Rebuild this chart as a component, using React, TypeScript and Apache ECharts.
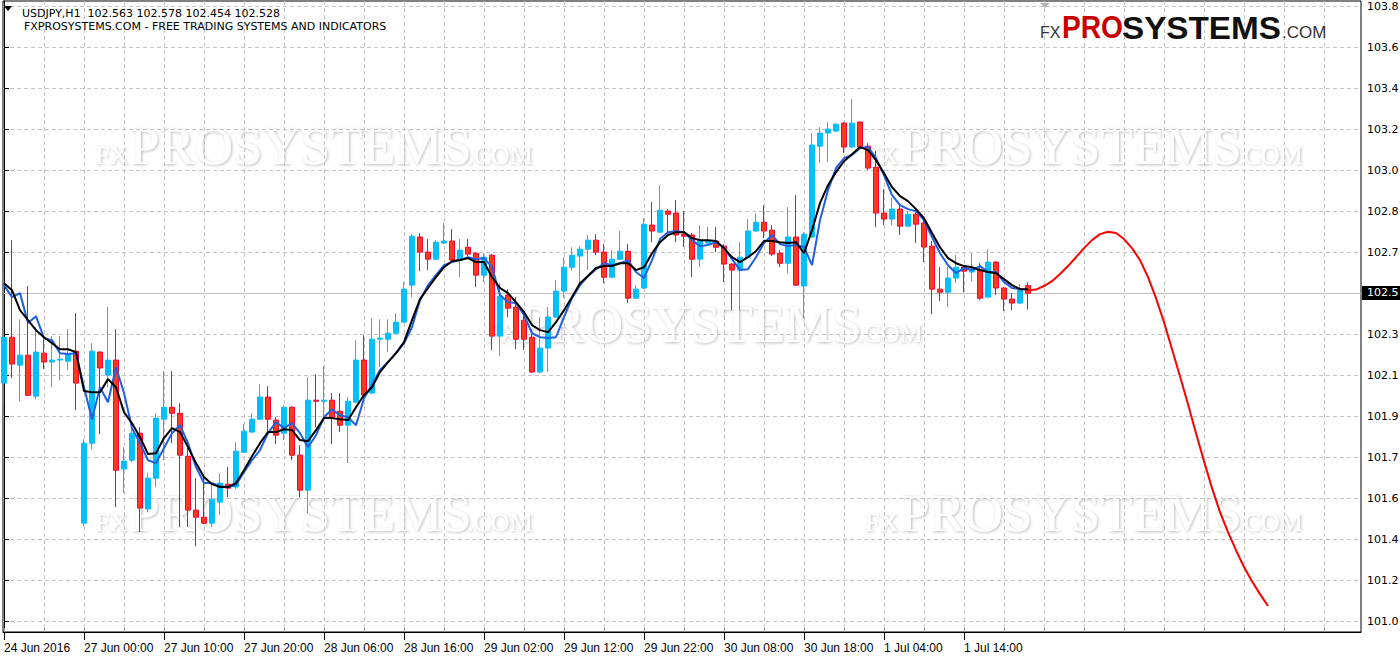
import React, { useEffect, useRef } from 'react';
import * as echarts from 'echarts';

// ---- Candles (H1 bars, index 0 = 24 Jun 14:00) ----
const opens = [102.123,102.330,102.204,102.249,102.064,102.258,102.218,102.227,102.222,102.267,
101.491,101.852,102.263,102.159,102.227,101.735,101.775,101.897,101.555,101.694,
101.960,102.014,101.987,101.793,101.550,101.518,101.491,101.586,101.667,101.654,
101.811,101.902,101.960,102.060,101.956,101.897,102.014,101.798,101.640,102.046,
102.041,102.046,101.996,101.933,102.037,102.227,102.078,102.321,102.321,102.348,
102.398,102.565,102.782,102.714,102.682,102.755,102.764,102.678,102.736,102.709,
102.610,102.700,102.335,102.520,102.466,102.407,102.330,102.173,102.281,102.421,
102.538,102.646,102.696,102.727,102.768,102.714,102.601,102.682,102.718,102.506,
102.552,102.836,102.804,102.899,102.890,102.795,102.791,102.682,102.755,102.764,
102.741,102.660,102.633,102.691,102.809,102.849,102.813,102.709,102.664,102.782,
102.561,102.782,103.192,103.251,103.260,103.296,103.188,103.301,103.192,103.097,
102.890,102.863,102.908,102.831,102.885,102.845,102.741,102.547,102.533,102.597,
102.646,102.624,102.633,102.511,102.669,102.552,102.502,102.484,102.563];

const closes = [102.330,102.209,102.249,102.068,102.263,102.218,102.227,102.231,102.254,102.123,
101.852,102.267,102.191,102.227,101.730,101.771,101.897,101.559,101.694,101.965,
102.014,101.987,101.798,101.550,101.518,101.491,101.599,101.672,101.649,101.816,
101.906,101.960,102.060,101.960,101.888,102.014,101.798,101.640,102.046,102.041,
102.046,101.969,101.933,102.041,102.227,102.069,102.321,102.326,102.348,102.398,
102.547,102.786,102.714,102.682,102.759,102.764,102.678,102.723,102.705,102.610,
102.691,102.335,102.515,102.461,102.321,102.321,102.173,102.281,102.421,102.538,
102.646,102.700,102.727,102.768,102.714,102.601,102.682,102.718,102.506,102.547,
102.840,102.809,102.903,102.885,102.791,102.786,102.682,102.768,102.764,102.736,
102.660,102.633,102.691,102.809,102.849,102.809,102.705,102.664,102.782,102.565,
102.795,103.197,103.251,103.269,103.291,103.188,103.296,103.188,103.093,102.890,
102.863,102.908,102.831,102.885,102.840,102.737,102.547,102.533,102.597,102.646,
102.628,102.637,102.506,102.669,102.552,102.502,102.484,102.542,102.528];

const lows = [102.023,102.146,102.041,102.064,102.050,102.186,102.104,102.136,102.182,102.001,
101.478,101.825,101.893,102.104,101.563,101.627,101.766,101.451,101.541,101.653,
101.775,101.852,101.473,101.473,101.387,101.487,101.473,101.527,101.608,101.645,
101.807,101.897,101.956,101.897,101.848,101.866,101.775,101.608,101.536,101.924,
101.956,101.848,101.902,101.762,102.032,102.064,102.073,102.195,102.263,102.344,
102.394,102.511,102.628,102.633,102.678,102.750,102.673,102.601,102.696,102.556,
102.579,102.272,102.245,102.421,102.276,102.272,102.168,102.168,102.173,102.416,
102.506,102.633,102.574,102.633,102.700,102.574,102.597,102.678,102.484,102.502,
102.547,102.759,102.800,102.800,102.759,102.737,102.601,102.646,102.746,102.714,
102.579,102.452,102.448,102.687,102.804,102.777,102.696,102.646,102.619,102.561,
102.416,102.777,103.116,103.120,103.255,103.161,103.183,103.183,103.084,102.827,
102.836,102.836,102.791,102.827,102.755,102.669,102.434,102.493,102.466,102.574,
102.533,102.583,102.497,102.506,102.520,102.448,102.452,102.479,102.454];

const highs = [102.619,102.768,102.411,102.561,102.375,102.321,102.335,102.335,102.366,102.439,
101.870,102.303,102.267,102.466,102.366,101.834,101.924,101.924,101.717,101.987,
102.177,102.177,102.032,101.843,101.694,101.708,101.672,101.717,101.744,101.857,
101.938,101.987,102.118,102.109,101.969,102.023,102.019,101.843,102.150,102.163,
102.200,102.078,102.078,102.060,102.317,102.339,102.416,102.411,102.411,102.439,
102.579,102.795,102.800,102.773,102.768,102.845,102.818,102.773,102.773,102.714,
102.709,102.705,102.574,102.547,102.511,102.439,102.366,102.421,102.466,102.588,
102.691,102.736,102.741,102.791,102.795,102.750,102.723,102.809,102.750,102.565,
102.867,102.940,103.016,102.908,102.949,102.899,102.800,102.836,102.827,102.827,
102.750,102.664,102.759,102.863,102.890,102.926,102.836,102.723,102.917,102.971,
102.804,103.251,103.278,103.301,103.296,103.301,103.404,103.305,103.206,103.170,
102.998,102.958,102.935,102.899,102.894,102.867,102.764,102.646,102.646,102.700,
102.655,102.709,102.664,102.727,102.673,102.556,102.529,102.570,102.578];

// ---- Moving averages ----
const blueMA = [102.565,102.511,102.529,102.394,102.425,102.326,102.317,102.258,102.254,102.258,
102.104,101.960,102.104,102.037,102.195,102.078,101.920,101.852,101.775,101.762,
101.830,101.897,101.933,101.852,101.744,101.672,101.672,101.658,101.654,101.663,
101.721,101.775,101.821,101.897,101.947,101.920,101.942,101.897,101.834,101.888,
101.969,102.005,101.978,101.969,101.933,102.055,102.114,102.182,102.218,102.258,
102.303,102.375,102.497,102.565,102.610,102.655,102.669,102.678,102.691,102.682,
102.687,102.646,102.520,102.488,102.484,102.430,102.348,102.330,102.326,102.330,
102.421,102.506,102.565,102.606,102.637,102.664,102.655,102.664,102.678,102.624,
102.597,102.678,102.773,102.804,102.809,102.804,102.768,102.741,102.746,102.759,
102.732,102.682,102.633,102.637,102.691,102.755,102.791,102.750,102.741,102.746,
102.737,102.655,102.858,102.994,103.093,103.138,103.152,103.183,103.188,103.138,
103.061,102.971,102.926,102.908,102.899,102.858,102.782,102.709,102.655,102.619,
102.642,102.633,102.651,102.624,102.624,102.579,102.552,102.547,102.547];

const blackMA = [102.574,102.542,102.452,102.407,102.362,102.330,102.303,102.276,102.276,102.263,
102.087,102.082,102.082,102.141,102.104,101.992,101.942,101.879,101.803,101.807,
101.875,101.920,101.902,101.834,101.762,101.699,101.667,101.654,101.654,101.672,
101.730,101.793,101.852,101.902,101.902,101.915,101.911,101.866,101.861,101.911,
101.965,101.965,101.960,101.956,102.014,102.069,102.104,102.173,102.218,102.258,
102.308,102.407,102.502,102.552,102.601,102.646,102.673,102.678,102.687,102.669,
102.669,102.601,102.552,102.529,102.488,102.443,102.385,102.362,102.353,102.398,
102.452,102.511,102.574,102.606,102.642,102.651,102.651,102.664,102.664,102.633,
102.646,102.709,102.759,102.791,102.804,102.804,102.777,102.768,102.768,102.764,
102.732,102.691,102.669,102.691,102.718,102.764,102.764,102.759,102.755,102.759,
102.709,102.813,102.935,103.016,103.075,103.124,103.156,103.188,103.174,103.129,
103.070,103.007,102.967,102.944,102.908,102.867,102.800,102.736,102.687,102.664,
102.651,102.646,102.633,102.624,102.619,102.592,102.565,102.547,102.547];

// ---- Forecast curve (starts at last bar) ----
const forecastStart = 128;
const forecast = [102.542,102.545,102.561,102.583,102.615,102.651,102.691,102.732,102.768,102.795,
102.806,102.800,102.773,102.732,102.678,102.601,102.506,102.398,102.276,102.154,
102.028,101.897,101.771,101.649,101.541,101.451,101.369,101.293,101.229,101.171,101.117];

const currentPrice = 102.528;
const headerText = 'USDJPY,H1  102.563 102.578 102.454 102.528';
const subHeader = 'FXPROSYSTEMS.COM - FREE TRADING SYSTEMS AND INDICATORS';

// ---- Axis ticks ----
const xTickBars = [0, 10, 20, 30, 40, 50, 60, 70, 80, 90, 100, 110, 120];
const xTickLabels = ['24 Jun 2016', '27 Jun 00:00', '27 Jun 10:00', '27 Jun 20:00', '28 Jun 06:00',
  '28 Jun 16:00', '29 Jun 02:00', '29 Jun 12:00', '29 Jun 22:00', '30 Jun 08:00', '30 Jun 18:00',
  '1 Jul 04:00', '1 Jul 14:00'];
const xGridBars = [0,5,10,15,20,25,30,35,40,45,50,55,60,65,70,75,80,85,90,95,100,105,110,115,120,125,130,135,140,145,150,155,160,165];
const yTickValues = [101.047, 101.232, 101.417, 101.602, 101.787, 101.972, 102.157, 102.342,
  102.712, 102.897, 103.082, 103.267, 103.452, 103.637, 103.822];

const X_MIN = -0.125;
const X_MAX = 169.625;
const Y_MIN = 101.0;
const Y_MAX = 103.847;

// the price scale shows only the first decimal (the rest is cut by the window edge)
const shortPrice = (v: number) => (Math.floor(v * 10 + 1e-6) / 10).toFixed(1);

function watermark(x0: number, base: number) {
  const common = {
    fill: '#ffffff',
    textShadowColor: 'rgba(0,0,0,0.28)',
    textShadowBlur: 3,
    textShadowOffsetX: 1,
    textShadowOffsetY: 1,
    fontFamily: '"Liberation Serif", serif',
    verticalAlign: 'middle',
    align: 'left',
  };
  return {
    type: 'group',
    silent: true,
    z: 50,
    children: [
      { type: 'text', x: x0, y: base - 9, style: { ...common, text: 'FX', fontSize: 26 }, opacity: 0.7 },
      { type: 'text', x: x0 + 35, y: base - 18, style: { ...common, text: 'PROSYSTEMS', fontSize: 53 }, opacity: 0.7 },
      { type: 'text', x: x0 + 372, y: base - 9, style: { ...common, text: '.COM', fontSize: 26 }, opacity: 0.7 },
    ],
  };
}

export default function App() {
  const ref = useRef<HTMLDivElement>(null);
  useEffect(() => {
    const chart = echarts.init(ref.current as HTMLDivElement, null, { renderer: 'svg' });
    const candleData = opens.map((o, i) => [i, o, closes[i], lows[i], highs[i]]);
    const option: any = {
      animation: false,
      backgroundColor: '#ffffff',
      textStyle: { fontFamily: '"DejaVu Sans", sans-serif' },
      grid: {
        left: 3, top: 1, width: 1358, height: 631, show: true, borderColor: '#000', borderWidth: 1,
        backgroundColor: '#fff', containLabel: false, outerBoundsMode: 'none',
      },
      xAxis: [
        {
          type: 'value', min: X_MIN, max: X_MAX, position: 'bottom',
          axisLine: { show: true, onZero: false, lineStyle: { color: '#000', width: 1 } },
          axisTick: { show: true, customValues: xTickBars, length: 8, lineStyle: { color: '#000' } },
          axisLabel: {
            show: true, customValues: xTickBars, align: 'left', margin: 10, color: '#000',
            fontFamily: '"Liberation Sans Narrow", "Liberation Sans", sans-serif', fontSize: 12,
            hideOverlap: false,
            formatter: (v: number) => { const k = xTickBars.indexOf(Math.round(v)); return k >= 0 ? xTickLabels[k] : ''; },
          },
          splitLine: { show: false },
        },
        {
          type: 'value', min: X_MIN, max: X_MAX, position: 'bottom',
          axisLine: { show: false, onZero: false },
          axisTick: { show: true, inside: true, customValues: xGridBars, length: 4, lineStyle: { color: '#999' } },
          axisLabel: { show: false },
          splitLine: { show: true, lineStyle: { color: '#c4c4c4', type: [4, 3], width: 1 } },
        },
      ],
      yAxis: {
        type: 'value', min: Y_MIN, max: Y_MAX, position: 'right',
        axisLine: { show: true, lineStyle: { color: '#000', width: 1 } },
        axisTick: { show: true, customValues: yTickValues, length: 5, lineStyle: { color: '#000' } },
        axisLabel: {
          show: true, customValues: yTickValues, margin: 6, color: '#000',
          fontFamily: '"DejaVu Sans", sans-serif', fontSize: 11,
          formatter: (v: number) => shortPrice(v),
        },
        splitLine: { show: true, lineStyle: { color: '#c4c4c4', type: [4, 3], width: 1 } },
      },
      series: [
        {
          type: 'candlestick',
          data: candleData,
          encode: { x: 0, y: [1, 2, 3, 4] },
          barWidth: 5,
          clip: true,
          z: 2,
          itemStyle: {
            color: '#00BFFF', color0: '#FF3A1C',
            borderColor: '#00BFFF', borderColor0: '#FF0033', borderWidth: 1,
          },
        },
        {
          type: 'line', data: blueMA.map((v, i) => [i, v]), showSymbol: false, z: 3,
          lineStyle: { color: '#1E60E0', width: 2 },
        },
        {
          type: 'line', data: blackMA.map((v, i) => [i, v]), showSymbol: false, z: 4,
          lineStyle: { color: '#000000', width: 2 },
        },
        {
          type: 'line', data: forecast.map((v, k) => [forecastStart + k, v]), showSymbol: false, z: 4,
          lineStyle: { color: '#FF0000', width: 2 },
          markLine: {
            silent: true, symbol: ['none', 'none'], animation: false,
            lineStyle: { color: '#c0c0c0', type: 'solid', width: 1 },
            label: {
              show: true, position: 'end', distance: 1, formatter: shortPrice(currentPrice),
              backgroundColor: '#000', color: '#fff', padding: [2, 2, 1, 5],
              fontFamily: '"DejaVu Sans", sans-serif', fontSize: 11,
            },
            data: [{ yAxis: currentPrice }],
            z: 1,
          },
        },
      ],
      graphic: [
        { type: 'polygon', shape: { points: [[4, 6], [12, 6], [8, 11]] }, style: { fill: '#000' }, z: 60 },
        { type: 'text', x: 22, y: 13.5, z: 60, style: { text: headerText, fontFamily: '"DejaVu Sans", sans-serif', fontSize: 11, fill: '#000', verticalAlign: 'middle' } },
        { type: 'text', x: 24, y: 26.3, z: 60, style: { text: subHeader, fontFamily: '"DejaVu Sans", sans-serif', fontSize: 11, fill: '#000', verticalAlign: 'middle' } },
        { type: 'polygon', shape: { points: [[1040, 3], [1050, 3], [1045, 8]] }, style: { fill: '#b4b4b4' }, z: 60 },
        { type: 'text', x: 1040, y: 32.5, z: 60, style: { text: 'FX', fontFamily: '"Liberation Sans", sans-serif', fontSize: 16, fill: '#333', verticalAlign: 'middle' } },
        { type: 'text', x: 1062, y: 27.3, z: 60, scaleX: 0.88, style: { text: 'PRO', fontFamily: '"Liberation Sans", sans-serif', fontWeight: 'bold', fontSize: 32, fill: '#C80000', verticalAlign: 'middle' } },
        { type: 'text', x: 1122, y: 27.3, z: 60, scaleX: 1.04, style: { text: 'SYSTEMS', fontFamily: '"Liberation Sans", sans-serif', fontWeight: 'bold', fontSize: 32, fill: '#111', verticalAlign: 'middle' } },
        { type: 'text', x: 1282, y: 32.2, z: 60, style: { text: '.COM', fontFamily: '"Liberation Sans", sans-serif', fontSize: 17, fill: '#333', verticalAlign: 'middle' } },
        watermark(95, 164),
        watermark(865, 164),
        watermark(485, 342),
        watermark(95, 531),
        watermark(865, 531),
      ],
    };
    chart.setOption(option);
    return () => chart.dispose();
  }, []);
  return (
    <div
      ref={ref}
      style={{ position: 'fixed', left: 0, top: 0, width: 1400, height: 657, background: '#fff', overflow: 'hidden' }}
    />
  );
}
